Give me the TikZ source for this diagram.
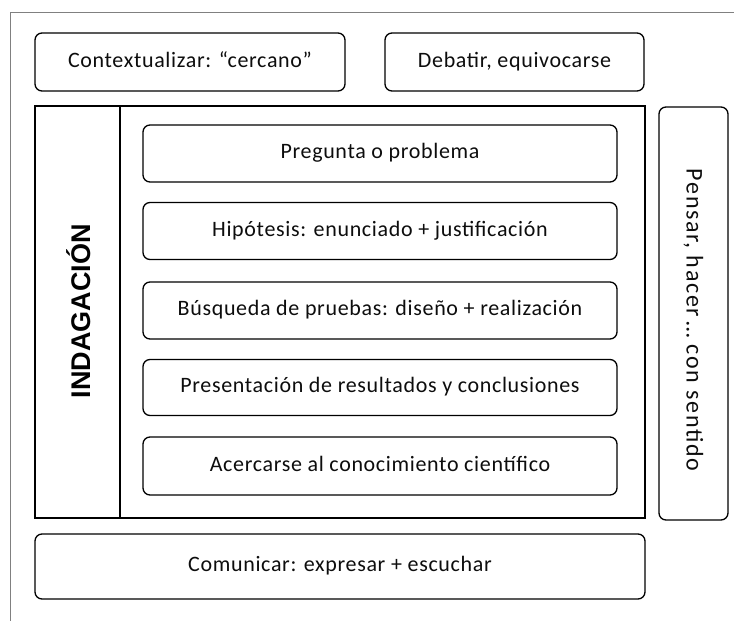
\documentclass[tikz,border=0pt]{standalone}
\usepackage{fontspec}
\setmainfont{Carlito}
\newfontfamily\boldsans{Liberation Sans}
\usetikzlibrary{positioning}
\tikzset{
x=1pt, y=-1pt, % one unit per pixel of the sketch, y going down
stepbox/.style={draw, line width=1.3pt, rounded corners=7pt, inner sep=0pt, text height=15pt, text depth=5pt,
  font=\addfontfeatures{LetterSpace=3}\fontsize{22}{24}\selectfont, text=black!95}, % the rounded boxes
frame/.style={draw, line width=1.3pt}, % the big box round the steps
}
\begin{document}
\begin{tikzpicture}
            \useasboundingbox (0,0) rectangle (734,621);
            \draw[gray, line width=1pt] (10,621) -- (10,12) -- (734,12);
            \node[stepbox, minimum width=310pt, minimum height=58pt] (ctx) at (190,62) {Contextualizar: “cercano”};
            \node[stepbox, minimum width=259pt, minimum height=58pt] (deb) at (514.5,62) {Debatir, equivocarse};
            \node[frame, minimum width=610pt, minimum height=412pt, inner sep=0pt] (ind) at (340,312) {};
            \draw[line width=2.4pt] (ind.north west -| 120,0) -- (ind.south west -| 120,0);
            \node[rotate=90, font=\boldsans\bfseries\fontsize{27}{30}\selectfont, text=black] (indtxt) at (79,311) {INDAGACIÓN};
            % the five steps
            \node[stepbox, minimum width=474pt, minimum height=57pt] (s1) at (380,153.5) {Pregunta o problema};
            \node[stepbox, minimum width=474pt, minimum height=57pt] (s2) at (380,231) {Hipótesis: enunciado + justificación};
            \node[stepbox, minimum width=474pt, minimum height=57pt] (s3) at (380,310.5) {Búsqueda de pruebas: diseño + realización};
            \node[stepbox, minimum width=474pt, minimum height=56pt] (s4) at (380,387.5) {Presentación de resultados y conclusiones};
            \node[stepbox, minimum width=474pt, minimum height=58pt] (s5) at (380,466) {Acercarse al conocimiento científico};
            \node[stepbox, minimum width=413pt, minimum height=69pt, rotate=-90] (pen) at (693.5,313.5) {};
            \node[rotate=-90, text=black!95, font=\addfontfeatures{LetterSpace=7}\fontsize{24}{26}\selectfont] (pentxt) at (pen.center |- 0,320) {Pensar, hacer\,…\ con sentido};
            \node[stepbox, minimum width=610pt, minimum height=65pt] (com) at (340,566.5) {Comunicar: expresar + escuchar};
            \end{tikzpicture}
\end{document}
